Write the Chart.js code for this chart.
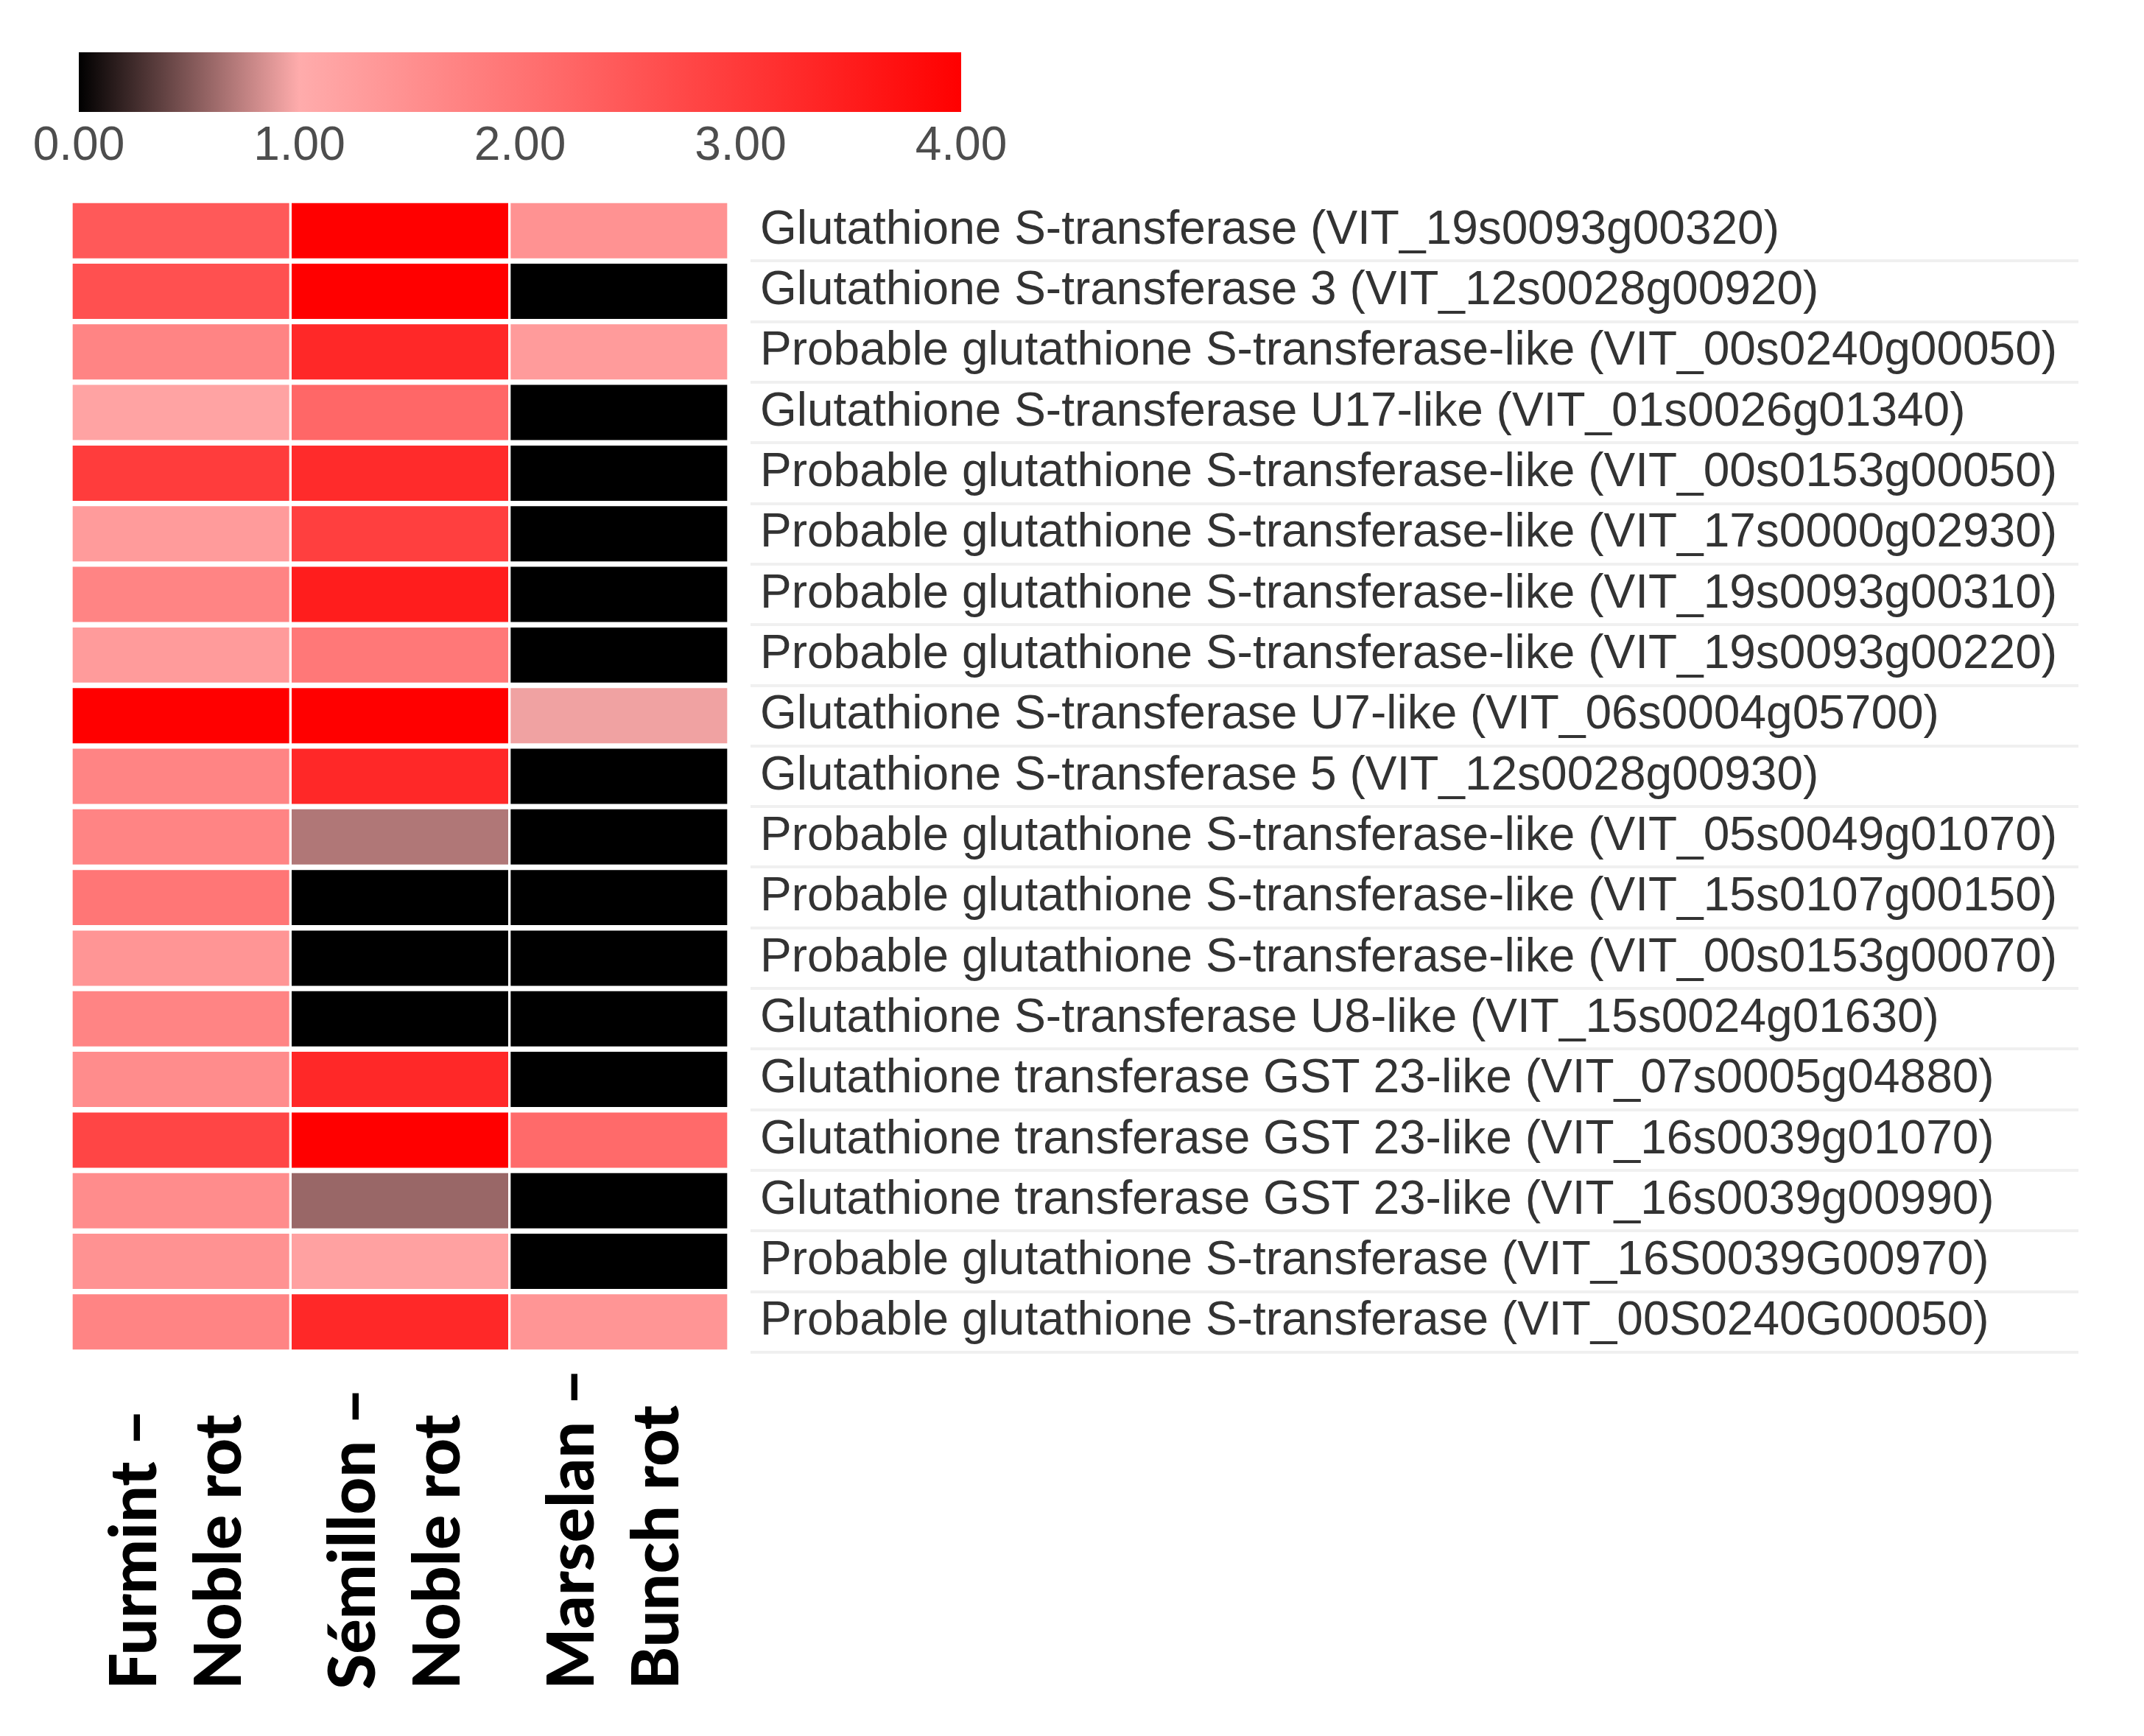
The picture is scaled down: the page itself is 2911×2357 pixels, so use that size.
<!DOCTYPE html>
<html>
<head>
<meta charset="utf-8">
<script src="https://cdn.jsdelivr.net/npm/chart.js@4.4.1/dist/chart.umd.min.js"></script>
<style>
  html, body { margin: 0; padding: 0; background: #ffffff; }
  #wrap { position: relative; width: 2911px; height: 2357px; background: #ffffff; }
  #heat { position: absolute; left: 0; top: 0; }
  #scale { position: absolute; left: 0; top: 0; }
</style>
</head>
<body>
<div id="wrap">
  <canvas id="heat" width="2911" height="2357"></canvas>
  <canvas id="scale" width="1500" height="260"></canvas>
</div>
<script>
// gene rows, top to bottom
const genes = [
    'Glutathione S-transferase (VIT_19s0093g00320)',
    'Glutathione S-transferase 3 (VIT_12s0028g00920)',
    'Probable glutathione S-transferase-like (VIT_00s0240g00050)',
    'Glutathione S-transferase U17-like (VIT_01s0026g01340)',
    'Probable glutathione S-transferase-like (VIT_00s0153g00050)',
    'Probable glutathione S-transferase-like (VIT_17s0000g02930)',
    'Probable glutathione S-transferase-like (VIT_19s0093g00310)',
    'Probable glutathione S-transferase-like (VIT_19s0093g00220)',
    'Glutathione S-transferase U7-like (VIT_06s0004g05700)',
    'Glutathione S-transferase 5 (VIT_12s0028g00930)',
    'Probable glutathione S-transferase-like (VIT_05s0049g01070)',
    'Probable glutathione S-transferase-like (VIT_15s0107g00150)',
    'Probable glutathione S-transferase-like (VIT_00s0153g00070)',
    'Glutathione S-transferase U8-like (VIT_15s0024g01630)',
    'Glutathione transferase GST 23-like (VIT_07s0005g04880)',
    'Glutathione transferase GST 23-like (VIT_16s0039g01070)',
    'Glutathione transferase GST 23-like (VIT_16s0039g00990)',
    'Probable glutathione S-transferase (VIT_16S0039G00970)',
    'Probable glutathione S-transferase (VIT_00S0240G00050)'
];

// column labels (two lines each)
const samples = [
    ['Furmint \u2013', 'Noble rot'],
    ['S\u00e9millon \u2013', 'Noble rot'],
    ['Marselan \u2013', 'Bunch rot']
];

// fold change values
const furmint  = [2.45, 2.6, 1.7, 1.15, 2.95, 1.3, 1.7, 1.3, 4.0, 1.7, 1.7, 1.95, 1.4, 1.7, 1.55, 2.8, 1.55, 1.45, 1.7];
const semillon = [4.0, 4.0, 3.3, 2.2, 3.25, 2.9, 3.5, 1.9, 4.0, 3.3, 0.69, 0, 0, 0, 3.3, 4.0, 0.6, 1.2, 3.3];
const marselan = [1.45, 0, 1.3, 0, 0, 0, 0, 0, 0.94, 0, 0, 0, 0, 0, 0, 2.15, 0, 0, 1.4];

// colour scale
const scaleTicks = [0, 1, 2, 3, 4];
const PINK = [255, 172, 172];

const heatColor = (v) => {
    let r, g;
    if (v <= 1) {
        r = 255 * v;
        g = PINK[1] * v;
    } else {
        const t = Math.min((v - 1) / 3, 1);
        r = 255;
        g = PINK[1] * (1 - t);
    }
    return `rgb(${Math.round(r)}, ${Math.round(g)}, ${Math.round(g)})`;
};

const series = [furmint, semillon, marselan];

// faint separators behind the gene names
const rowLines = {
    id: 'rowLines',
    afterDraw(chart) {
        const { ctx, chartArea, scales } = chart;
        const y = scales.y;
        const band = y.getPixelForValue(1) - y.getPixelForValue(0);
        ctx.save();
        ctx.strokeStyle = 'rgba(0, 0, 0, 0.06)';
        ctx.lineWidth = 4;
        for (let k = 0; k < genes.length; k++) {
            const yy = Math.round(y.getPixelForValue(k) + band / 2);
            ctx.beginPath();
            ctx.moveTo(chartArea.right + 30, yy);
            ctx.lineTo(2822, yy);
            ctx.stroke();
        }
        ctx.restore();
    }
};

// rotated bold column labels under the heatmap
const columnLabels = {
    id: 'columnLabels',
    afterDraw(chart) {
        const { ctx, scales } = chart;
        const x = scales.x;
        ctx.save();
        ctx.fillStyle = '#000000';
        ctx.font = '900 88px Lato, "Open Sans", sans-serif';
        ctx.textAlign = 'left';
        ctx.textBaseline = 'alphabetic';
        samples.forEach((lines, i) => {
            const cx = x.getPixelForValue(i + 0.5) - 4;
            lines.forEach((line, j) => {
                const base = cx - 30 + j * 115;
                ctx.save();
                ctx.translate(base, 2294);
                ctx.rotate(-Math.PI / 2);
                ctx.fillText(line, 0, 0);
                ctx.restore();
            });
        });
        ctx.restore();
    }
};

new Chart(document.getElementById('heat'), {
    type: 'bar',
    data: {
        labels: genes,
        datasets: series.map((vals, i) => ({
            label: samples[i].join(' '),
            data: vals.map(() => 1),
            backgroundColor: vals.map(heatColor),
            borderColor: '#ffffff',
            borderWidth: { top: 4, bottom: 4, left: 2, right: 2 },
            borderSkipped: false,
            barPercentage: 1,
            categoryPercentage: 1
        }))
    },
    options: {
        indexAxis: 'y',
        responsive: false,
        animation: false,
        devicePixelRatio: 1,
        layout: { padding: { left: 97, top: 272, bottom: 521, right: 0 } },
        plugins: {
            legend: { display: false },
            tooltip: { enabled: false }
        },
        scales: {
            x: {
                type: 'linear',
                stacked: true,
                min: 0,
                max: 3,
                display: false
            },
            y: {
                stacked: true,
                position: 'right',
                grid: { display: false },
                border: { display: false },
                afterFit: (s) => { s.width = 2911 - 989; },
                ticks: {
                    autoSkip: false,
                    padding: 35,
                    color: '#333333',
                    font: { family: '"Liberation Sans", Arial, sans-serif', size: 64 }
                }
            }
        }
    },
    plugins: [rowLines, columnLabels]
});

// colour key on top
new Chart(document.getElementById('scale'), {
    type: 'bar',
    data: {
        labels: ['key'],
        datasets: [{
            data: [[scaleTicks[0], scaleTicks[scaleTicks.length - 1]]],
            backgroundColor: (c) => {
                const area = c.chart.chartArea;
                if (!area) return '#000000';
                const grad = c.chart.ctx.createLinearGradient(area.left, 0, area.right, 0);
                grad.addColorStop(0, heatColor(0));
                grad.addColorStop(0.25, heatColor(1));
                grad.addColorStop(0.5, heatColor(2));
                grad.addColorStop(0.75, heatColor(3));
                grad.addColorStop(1, heatColor(4));
                return grad;
            },
            borderWidth: 0,
            barPercentage: 1,
            categoryPercentage: 1
        }]
    },
    options: {
        indexAxis: 'y',
        responsive: false,
        animation: false,
        devicePixelRatio: 1,
        layout: { padding: { left: 107, right: 195, top: 71, bottom: 27 } },
        plugins: {
            legend: { display: false },
            tooltip: { enabled: false }
        },
        scales: {
            x: {
                type: 'linear',
                min: 0,
                max: 4,
                grid: { display: false, drawTicks: false },
                border: { display: false },
                afterBuildTicks: (s) => { s.ticks = scaleTicks.map(v => ({ value: v })); },
                ticks: {
                    padding: 9,
                    color: '#4d4d4d',
                    font: { family: '"Liberation Sans", Arial, sans-serif', size: 64 },
                    callback: (v) => Number(v).toFixed(2)
                }
            },
            y: { display: false }
        }
    }
});
</script>
</body>
</html>
